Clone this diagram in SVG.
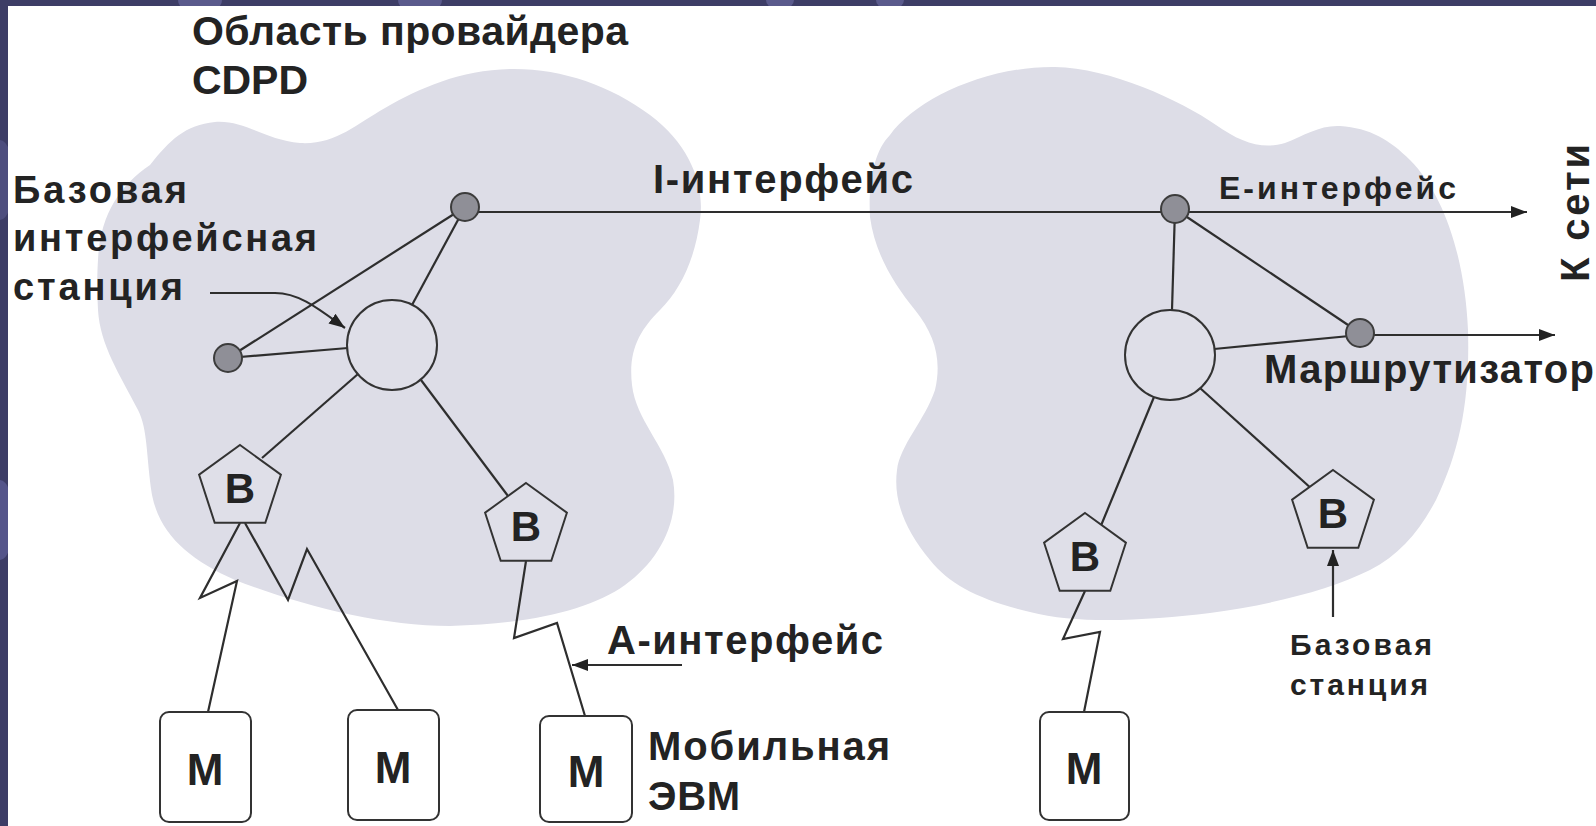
<svg xmlns="http://www.w3.org/2000/svg" width="1596" height="826" viewBox="0 0 1596 826">
<defs>
<style>
.t{font-family:"Liberation Sans",Arial,sans-serif;font-weight:bold;fill:#232323}
.ln{stroke:#2e2e2e;stroke-width:2.2;fill:none}
.blob{fill:#dddde7}
.dot{fill:#8f8f97;stroke:#3c3c3c;stroke-width:2}
.circ{fill:#dfdfe8;stroke:#333;stroke-width:2}
.pent{fill:#dfdfe8;stroke:#333;stroke-width:2}
.box{fill:#ffffff;stroke:#333;stroke-width:2}
</style>
<marker id="ah" viewBox="0 0 16 12" refX="16" refY="6" markerWidth="16" markerHeight="12" markerUnits="userSpaceOnUse" orient="auto">
<path d="M0,0 L16,6 L0,12 Z" fill="#222"/>
</marker>
<path id="pentShape" d="M0,-43 L40.9,-13.3 L25.3,34.8 L-25.3,34.8 L-40.9,-13.3 Z"/>
<clipPath id="frameClip"><path d="M0,0 H1596 V6 H8 V826 H0 Z"/></clipPath>
</defs>

<rect width="1596" height="826" fill="#ffffff"/>
<g id="frame" clip-path="url(#frameClip)">
<rect width="1596" height="826" fill="#3d3d66"/>
<ellipse cx="200" cy="0" rx="22" ry="14" fill="#5a5a8c"/>
<ellipse cx="420" cy="0" rx="22" ry="14" fill="#5a5a8c"/>
<ellipse cx="780" cy="0" rx="14" ry="10" fill="#5a5a8c"/>
<ellipse cx="890" cy="0" rx="14" ry="10" fill="#5a5a8c"/>
<ellipse cx="0" cy="180" rx="14" ry="40" fill="#4e4e7e"/>
<ellipse cx="0" cy="520" rx="14" ry="40" fill="#55558a"/>
</g>

<g id="areas">
<path class="blob" d="M98,260 C100,215 120,185 150,165 C170,140 185,125 215,122 C245,120 265,140 300,143 C335,145 355,125 385,108 C420,88 460,70 510,69 C560,68 610,85 650,115 C690,145 705,185 700,220 C695,260 680,290 660,310 C640,330 628,350 632,385 C636,420 665,445 673,480 C680,520 660,560 625,585 C590,610 530,624 450,626 C380,626 300,605 235,580 C190,560 160,535 152,495 C146,455 148,430 138,410 C120,375 100,345 98,310 C97,290 97,275 98,260 Z"/>
<path class="blob" d="M870,217 C868,180 875,150 890,135 C915,100 985,66 1055,67 C1110,68 1180,100 1216,125 C1240,142 1262,150 1285,143 C1305,135 1320,125 1340,126 C1370,128 1390,140 1410,160 C1445,195 1465,260 1468,330 C1470,400 1460,450 1436,500 C1420,530 1400,555 1370,570 C1330,590 1270,605 1210,613 C1150,620 1080,625 1030,612 C980,600 950,585 930,560 C905,530 893,500 897,470 C900,445 925,420 935,390 C942,360 935,335 915,310 C895,285 875,255 870,217 Z"/>
</g>

<g id="connectors">
<line class="ln" x1="465" y1="212" x2="1527" y2="212" stroke-width="2.6" marker-end="url(#ah)"/>
<line class="ln" x1="465" y1="207" x2="228" y2="358"/>
<line class="ln" x1="228" y1="358" x2="348" y2="348"/>
<line class="ln" x1="465" y1="207" x2="412" y2="305"/>
<line class="ln" x1="358" y1="374" x2="262" y2="458"/>
<line class="ln" x1="421" y1="380" x2="508" y2="496"/>
<path class="ln" d="M210,293 L275,293 C300,293 320,310 345,328" marker-end="url(#ah)"/>
<line class="ln" x1="1175" y1="209" x2="1172" y2="310"/>
<line class="ln" x1="1175" y1="209" x2="1360" y2="333"/>
<line class="ln" x1="1214" y1="349" x2="1360" y2="335"/>
<line class="ln" x1="1360" y1="335" x2="1555" y2="335" marker-end="url(#ah)"/>
<line class="ln" x1="1154" y1="397" x2="1100" y2="528"/>
<line class="ln" x1="1200" y1="388" x2="1313" y2="490"/>
<polyline class="ln" points="240,523 200,598 237,581 208,712"/>
<polyline class="ln" points="245,523 288,600 307,549 398,710"/>
<polyline class="ln" points="526,561 514,638 557,623 585,716"/>
<polyline class="ln" points="1085,591 1063,639 1100,632 1084,712"/>
<line class="ln" x1="682" y1="665" x2="572" y2="665" marker-end="url(#ah)"/>
<line class="ln" x1="1333" y1="617" x2="1333" y2="550" marker-end="url(#ah)"/>
</g>

<g id="title">
<text class="t" x="192" y="45" font-size="41" textLength="436" lengthAdjust="spacing">Область провайдера</text>
<text class="t" x="192" y="94" font-size="41" textLength="116" lengthAdjust="spacing">CDPD</text>
</g>

<g id="bis-label">
<text class="t" x="13" y="203" font-size="38" textLength="174" lengthAdjust="spacing">Базовая</text>
<text class="t" x="13" y="251" font-size="38" textLength="304" lengthAdjust="spacing">интерфейсная</text>
<text class="t" x="13" y="300" font-size="38" textLength="170" lengthAdjust="spacing">станция</text>
</g>

<g id="i-label"><text class="t" x="653" y="193" font-size="40" textLength="260" lengthAdjust="spacing">I-интерфейс</text></g>
<g id="e-label"><text class="t" x="1219" y="199" font-size="32" textLength="237" lengthAdjust="spacing">E-интерфейс</text></g>
<g id="net-label"><text class="t" transform="translate(1589,213) rotate(-90)" x="0" y="0" font-size="40" text-anchor="middle" textLength="138" lengthAdjust="spacing">К сети</text></g>
<g id="router-label"><text class="t" x="1264" y="383" font-size="40" textLength="330" lengthAdjust="spacing">Маршрутизатор</text></g>
<g id="a-label"><text class="t" x="607" y="654" font-size="40" textLength="276" lengthAdjust="spacing">A-интерфейс</text></g>
<g id="mob-label">
<text class="t" x="648" y="760" font-size="40" textLength="242" lengthAdjust="spacing">Мобильная</text>
<text class="t" x="648" y="810" font-size="40" textLength="92" lengthAdjust="spacing">ЭВМ</text>
</g>
<g id="bs-label">
<text class="t" x="1290" y="655" font-size="30" textLength="142" lengthAdjust="spacing">Базовая</text>
<text class="t" x="1290" y="695" font-size="30" textLength="138" lengthAdjust="spacing">станция</text>
</g>

<g id="bis-left"><circle class="circ" cx="392" cy="345" r="45"/></g>
<g id="bis-right"><circle class="circ" cx="1170" cy="355" r="45"/></g>
<g id="node-i-left"><circle class="dot" cx="465" cy="207" r="14"/></g>
<g id="node-small-left"><circle class="dot" cx="228" cy="358" r="14"/></g>
<g id="node-e"><circle class="dot" cx="1175" cy="209" r="14"/></g>
<g id="router"><circle class="dot" cx="1360" cy="333" r="14"/></g>

<g id="bs1"><use href="#pentShape" class="pent" x="240" y="488"/><text class="t" x="240" y="503" font-size="42" text-anchor="middle">B</text></g>
<g id="bs2"><use href="#pentShape" class="pent" x="526" y="526"/><text class="t" x="526" y="541" font-size="42" text-anchor="middle">B</text></g>
<g id="bs3"><use href="#pentShape" class="pent" x="1085" y="556"/><text class="t" x="1085" y="571" font-size="42" text-anchor="middle">B</text></g>
<g id="bs4"><use href="#pentShape" class="pent" x="1333" y="513"/><text class="t" x="1333" y="528" font-size="42" text-anchor="middle">B</text></g>

<g id="m1"><rect class="box" x="160" y="712" width="91" height="110" rx="9"/><text class="t" x="205" y="785" font-size="44" text-anchor="middle">M</text></g>
<g id="m2"><rect class="box" x="348" y="710" width="91" height="110" rx="9"/><text class="t" x="393" y="783" font-size="44" text-anchor="middle">M</text></g>
<g id="m3"><rect class="box" x="540" y="716" width="92" height="106" rx="9"/><text class="t" x="586" y="787" font-size="44" text-anchor="middle">M</text></g>
<g id="m4"><rect class="box" x="1040" y="712" width="89" height="108" rx="9"/><text class="t" x="1084" y="784" font-size="44" text-anchor="middle">M</text></g>
</svg>
